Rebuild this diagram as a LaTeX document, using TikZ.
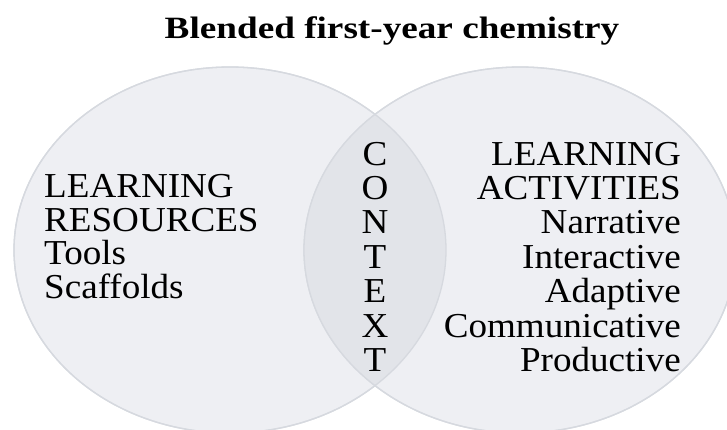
\documentclass[tikz,border=0pt]{standalone}
\usepackage{fontspec}
\setmainfont{Liberation Serif}[FakeStretch=1.06]
\newfontfamily\titlefont{Liberation Serif}[FakeStretch=1.2]
\definecolor{circfill}{HTML}{EEEFF3}
\definecolor{lensfill}{HTML}{E2E4E9}
\definecolor{circline}{HTML}{D6D9DF}
\begin{document}
\begin{tikzpicture}[x=1pt,y=-1pt,
  body/.style={inner sep=0pt,font=\fontsize{35}{36}\selectfont},
  lline/.style={body,anchor=base west},
  rline/.style={body,anchor=base east},
  cline/.style={body,anchor=base},
  circ/.style={fill=circfill,draw=circline,line width=1.3pt}]
\useasboundingbox (0,0) rectangle (727,429);
\clip (0,0) rectangle (727,429);
\path[circ] (230,250) ellipse [x radius=216, y radius=183];
\path[circ] (520,250) ellipse [x radius=216, y radius=183];
\begin{scope}
  \clip (230,250) ellipse [x radius=216, y radius=183];
  \path[fill=lensfill] (520,250) ellipse [x radius=216, y radius=183];
\end{scope}
\draw[circline,line width=1.3pt] (230,250) ellipse [x radius=216, y radius=183];
\draw[circline,line width=1.3pt] (520,250) ellipse [x radius=216, y radius=183];
\node[inner sep=0pt,anchor=base,font=\titlefont\bfseries\fontsize{31}{32}\selectfont] (title) at (392,38) {Blended first-year chemistry};
\node[lline] (l1) at (44,197) {LEARNING};
\node[lline] (l2) at (44,231) {RESOURCES};
\node[lline] (l3) at (44,264.5) {Tools};
\node[lline] (l4) at (44,298) {Scaffolds};
\node[rline] (r1) at (681,165) {LEARNING};
\node[rline] (r2) at (681,199) {ACTIVITIES};
\node[rline] (r3) at (681,233.5) {Narrative};
\node[rline] (r4) at (681,268) {Interactive};
\node[rline] (r5) at (681,302.5) {Adaptive};
\node[rline] (r6) at (681,337) {Communicative};
\node[rline] (r7) at (681,371.5) {Productive};
\node[cline] (c1) at (375,165) {C};
\node[cline] (c2) at (375,199) {O};
\node[cline] (c3) at (375,233.5) {N};
\node[cline] (c4) at (375,268) {T};
\node[cline] (c5) at (375,302.5) {E};
\node[cline] (c6) at (375,337) {X};
\node[cline] (c7) at (375,371.5) {T};
\end{tikzpicture}
\end{document}
